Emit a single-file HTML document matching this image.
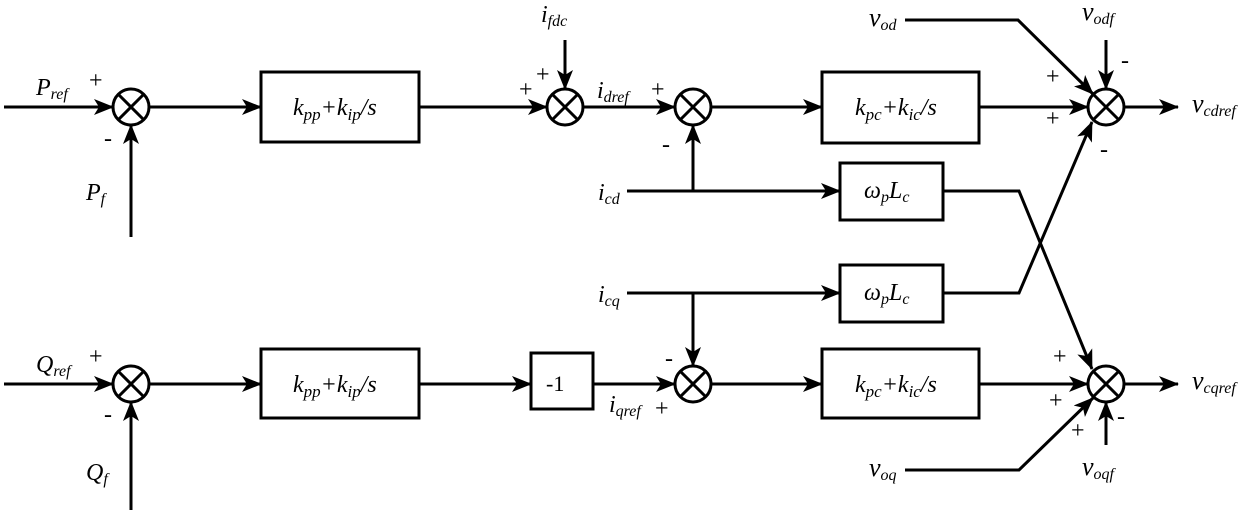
<!DOCTYPE html>
<html><head><meta charset="utf-8"><style>
html,body{margin:0;padding:0;background:#fff;}
svg{display:block;}
</style></head><body>
<svg width="1250" height="516" viewBox="0 0 1250 516" xmlns="http://www.w3.org/2000/svg">
<defs>
<marker id="a" markerWidth="20" markerHeight="16" refX="19" refY="8" orient="auto" markerUnits="userSpaceOnUse">
<path d="M0,0 L20,8 L0,16 L5,8 Z" fill="#000"/>
</marker>
</defs>
<g stroke="#000" stroke-width="3" fill="none">
<circle cx="131" cy="107" r="18"/><path d="M118,94 L144,120 M144,94 L118,120"/>
<circle cx="565" cy="107" r="18"/><path d="M552,94 L578,120 M578,94 L552,120"/>
<circle cx="693" cy="107" r="18"/><path d="M680,94 L706,120 M706,94 L680,120"/>
<circle cx="1106" cy="107" r="18"/><path d="M1093,94 L1119,120 M1119,94 L1093,120"/>
<circle cx="131" cy="384" r="18"/><path d="M118,371 L144,397 M144,371 L118,397"/>
<circle cx="693" cy="384" r="18"/><path d="M680,371 L706,397 M706,371 L680,397"/>
<circle cx="1106" cy="384" r="18"/><path d="M1093,371 L1119,397 M1119,371 L1093,397"/>
<rect x="261" y="72" width="158" height="70"/>
<rect x="261" y="349" width="158" height="69"/>
<rect x="822" y="72" width="157" height="71"/>
<rect x="822" y="349" width="157" height="69"/>
<rect x="840" y="163" width="103" height="57"/>
<rect x="840" y="265" width="103" height="57"/>
<rect x="531" y="353" width="62" height="56"/>
<path d="M4,107 L113,107" marker-end="url(#a)"/>
<path d="M131,237 L131,125" marker-end="url(#a)"/>
<path d="M149,107 L261,107" marker-end="url(#a)"/>
<path d="M419,107 L547,107" marker-end="url(#a)"/>
<path d="M565,40 L565,89" marker-end="url(#a)"/>
<path d="M583,107 L675,107" marker-end="url(#a)"/>
<path d="M711,107 L822,107" marker-end="url(#a)"/>
<path d="M979,107 L1088,107" marker-end="url(#a)"/>
<path d="M1124,107 L1178,107" marker-end="url(#a)"/>
<path d="M1106,40 L1106,89" marker-end="url(#a)"/>
<path d="M905,20 L1018,20 L1093,94" marker-end="url(#a)"/>
<path d="M627,191 L840,191" marker-end="url(#a)"/>
<path d="M693,191 L693,125" marker-end="url(#a)"/>
<path d="M627,293 L840,293" marker-end="url(#a)"/>
<path d="M693,293 L693,366" marker-end="url(#a)"/>
<path d="M943,191 L1019,191 L1092,369" marker-end="url(#a)"/>
<path d="M943,293 L1019,293 L1092,122" marker-end="url(#a)"/>
<path d="M4,384 L113,384" marker-end="url(#a)"/>
<path d="M131,510 L131,402" marker-end="url(#a)"/>
<path d="M149,384 L261,384" marker-end="url(#a)"/>
<path d="M419,384 L531,384" marker-end="url(#a)"/>
<path d="M593,384 L675,384" marker-end="url(#a)"/>
<path d="M711,384 L822,384" marker-end="url(#a)"/>
<path d="M979,384 L1088,384" marker-end="url(#a)"/>
<path d="M1124,384 L1178,384" marker-end="url(#a)"/>
<path d="M1106,445 L1106,402" marker-end="url(#a)"/>
<path d="M905,470 L1019,470 L1093,398" marker-end="url(#a)"/>
</g>
<g font-family="Liberation Serif, serif" font-style="italic" fill="#000" font-size="24">
<text x="36" y="95">P<tspan font-size="16" dy="4">ref</tspan></text>
<text x="86" y="200">P<tspan font-size="16" dy="4">f</tspan></text>
<text x="293" y="115">k<tspan font-size="17" dy="5">pp</tspan><tspan dy="-5">+k</tspan><tspan font-size="17" dy="5">ip</tspan><tspan dy="-5">/s</tspan></text>
<text x="541" y="22">i<tspan font-size="16" dy="4">fdc</tspan></text>
<text x="597" y="98">i<tspan font-size="16" dy="4">dref</tspan></text>
<text x="598" y="200">i<tspan font-size="16" dy="4">cd</tspan></text>
<text x="598" y="302">i<tspan font-size="16" dy="4">cq</tspan></text>
<text x="855" y="115">k<tspan font-size="17" dy="5">pc</tspan><tspan dy="-5">+k</tspan><tspan font-size="17" dy="5">ic</tspan><tspan dy="-5">/s</tspan></text>
<text x="855" y="392">k<tspan font-size="17" dy="5">pc</tspan><tspan dy="-5">+k</tspan><tspan font-size="17" dy="5">ic</tspan><tspan dy="-5">/s</tspan></text>
<text x="864" y="198">ω<tspan font-size="16" dy="4">p</tspan><tspan dy="-4">L</tspan><tspan font-size="16" dy="4">c</tspan></text>
<text x="864" y="300">ω<tspan font-size="16" dy="4">p</tspan><tspan dy="-4">L</tspan><tspan font-size="16" dy="4">c</tspan></text>
<text x="869" y="26" font-size="26">v<tspan font-size="16" dy="4">od</tspan></text>
<text x="1082" y="20" font-size="26">v<tspan font-size="16" dy="4">odf</tspan></text>
<text x="1192" y="112" font-size="26">v<tspan font-size="16" dy="4">cdref</tspan></text>
<text x="36" y="372">Q<tspan font-size="16" dy="4">ref</tspan></text>
<text x="86" y="480">Q<tspan font-size="16" dy="4">f</tspan></text>
<text x="293" y="392">k<tspan font-size="17" dy="5">pp</tspan><tspan dy="-5">+k</tspan><tspan font-size="17" dy="5">ip</tspan><tspan dy="-5">/s</tspan></text>
<text x="609" y="412">i<tspan font-size="16" dy="4">qref</tspan></text>
<text x="869" y="476" font-size="26">v<tspan font-size="16" dy="4">oq</tspan></text>
<text x="1082" y="475" font-size="26">v<tspan font-size="16" dy="4">oqf</tspan></text>
<text x="1192" y="389" font-size="26">v<tspan font-size="16" dy="4">cqref</tspan></text>
</g>
<g font-family="Liberation Serif, serif" fill="#000" font-size="24">
<text x="89" y="88">+</text>
<text x="104" y="146">-</text>
<text x="519" y="97">+</text>
<text x="536" y="82">+</text>
<text x="651" y="97">+</text>
<text x="662" y="152">-</text>
<text x="1046" y="84">+</text>
<text x="1046" y="126">+</text>
<text x="1121" y="68">-</text>
<text x="1100" y="157">-</text>
<text x="89" y="364">+</text>
<text x="104" y="422">-</text>
<text x="546" y="391" font-style="normal" font-size="22">-1</text>
<text x="655" y="416">+</text>
<text x="665" y="366">-</text>
<text x="1053" y="364">+</text>
<text x="1049" y="408">+</text>
<text x="1071" y="438">+</text>
<text x="1117" y="424">-</text>
</g>
</svg>
</body></html>
